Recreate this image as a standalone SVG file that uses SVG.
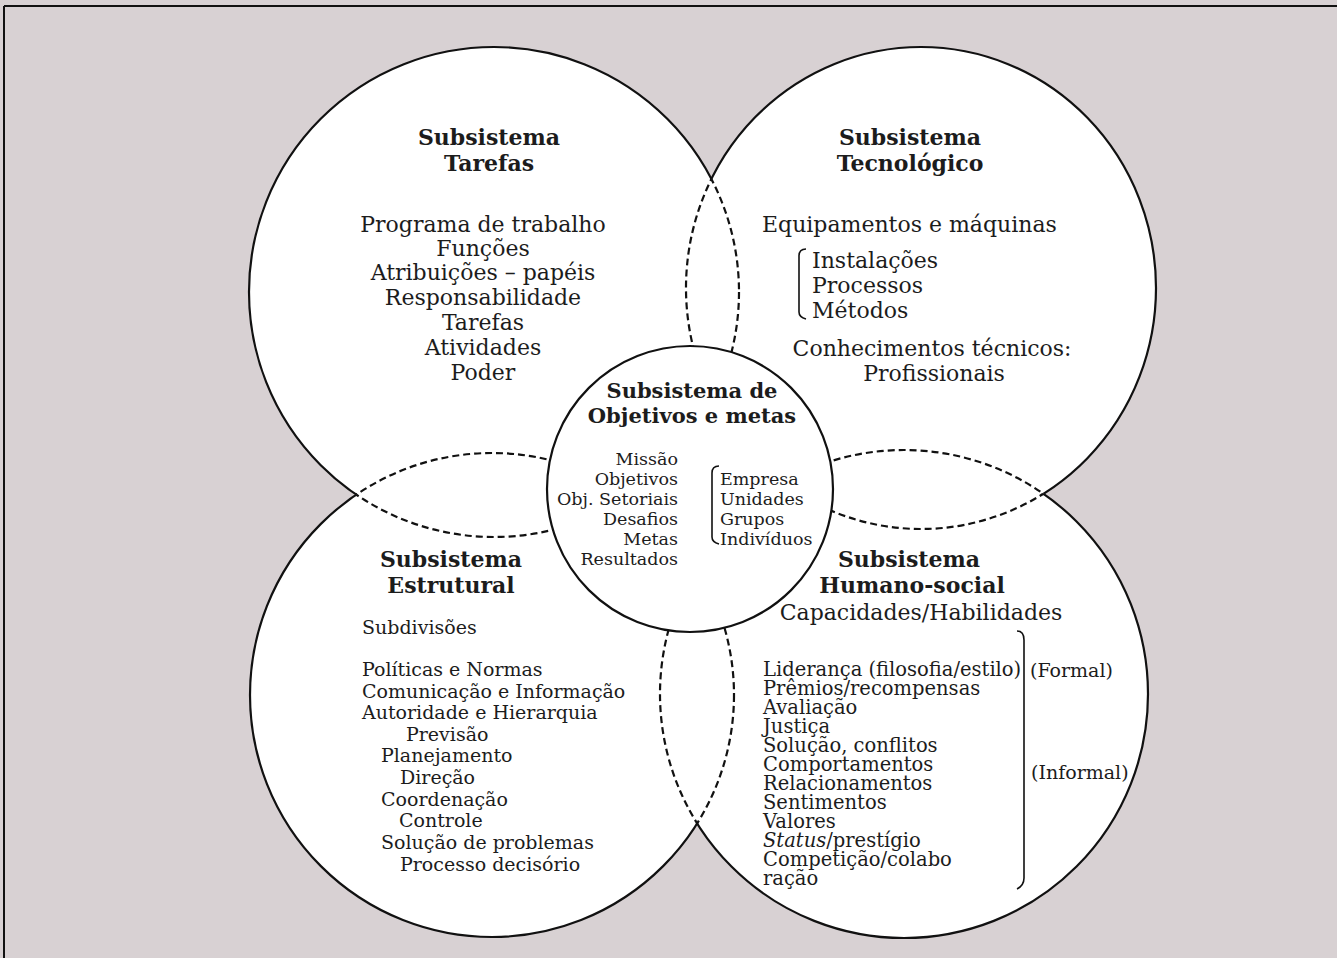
<svg xmlns="http://www.w3.org/2000/svg" xmlns:xlink="http://www.w3.org/1999/xlink" width="1337" height="958" viewBox="0 0 1337 958">
<style>
  text { font-family: "DejaVu Serif", "Liberation Serif", serif; fill: #1c1c1c; }
  .title { font-weight: bold; font-size: 22px; text-anchor: middle; }
  .ctitle { font-weight: bold; font-size: 21px; text-anchor: middle; }
  .big { font-size: 22px; }
  .mid { font-size: 19px; }
  .list { font-size: 19.5px; }
  .small { font-size: 17.5px; }
  .c { text-anchor: middle; }
  .r { text-anchor: end; }
  .solid { fill: none; stroke: #111; stroke-width: 2.2; }
  .dash { fill: none; stroke: #111; stroke-width: 2.2; stroke-dasharray: 7 4; }
  .brk { fill: none; stroke: #111; stroke-width: 1.6; }
</style>
<defs>
  <circle id="cTL" cx="494" cy="292" r="245"/>
  <ellipse id="cTR" cx="921" cy="288" rx="235" ry="241"/>
  <circle id="cBL" cx="492" cy="695" r="242"/>
  <circle id="cBR" cx="904" cy="694" r="244"/>
  <mask id="outTL" maskUnits="userSpaceOnUse" x="0" y="0" width="1337" height="958"><rect width="1337" height="958" fill="white"/><use xlink:href="#cTR" fill="black"/><use xlink:href="#cBL" fill="black"/><use xlink:href="#cBR" fill="black"/></mask>
  <mask id="inTL" maskUnits="userSpaceOnUse" x="0" y="0" width="1337" height="958"><use xlink:href="#cTR" fill="white"/><use xlink:href="#cBL" fill="white"/><use xlink:href="#cBR" fill="white"/></mask>
  <mask id="outTR" maskUnits="userSpaceOnUse" x="0" y="0" width="1337" height="958"><rect width="1337" height="958" fill="white"/><use xlink:href="#cTL" fill="black"/><use xlink:href="#cBL" fill="black"/><use xlink:href="#cBR" fill="black"/></mask>
  <mask id="inTR" maskUnits="userSpaceOnUse" x="0" y="0" width="1337" height="958"><use xlink:href="#cTL" fill="white"/><use xlink:href="#cBL" fill="white"/><use xlink:href="#cBR" fill="white"/></mask>
  <mask id="outBL" maskUnits="userSpaceOnUse" x="0" y="0" width="1337" height="958"><rect width="1337" height="958" fill="white"/><use xlink:href="#cTL" fill="black"/><use xlink:href="#cTR" fill="black"/><use xlink:href="#cBR" fill="black"/></mask>
  <mask id="inBL" maskUnits="userSpaceOnUse" x="0" y="0" width="1337" height="958"><use xlink:href="#cTL" fill="white"/><use xlink:href="#cTR" fill="white"/><use xlink:href="#cBR" fill="white"/></mask>
  <mask id="outBR" maskUnits="userSpaceOnUse" x="0" y="0" width="1337" height="958"><rect width="1337" height="958" fill="white"/><use xlink:href="#cTL" fill="black"/><use xlink:href="#cTR" fill="black"/><use xlink:href="#cBL" fill="black"/></mask>
  <mask id="inBR" maskUnits="userSpaceOnUse" x="0" y="0" width="1337" height="958"><use xlink:href="#cTL" fill="white"/><use xlink:href="#cTR" fill="white"/><use xlink:href="#cBL" fill="white"/></mask>
</defs>

<rect width="1337" height="958" fill="#d8d1d3"/>
<line x1="4" y1="6" x2="1337" y2="6" stroke="#111" stroke-width="2"/>
<line x1="4" y1="6" x2="4" y2="958" stroke="#111" stroke-width="2"/>

<g id="circle-fills" fill="#ffffff">
  <use xlink:href="#cTL"/><use xlink:href="#cTR"/><use xlink:href="#cBL"/><use xlink:href="#cBR"/>
</g>

<g id="node-tarefas">
  <use xlink:href="#cTL" class="solid" mask="url(#outTL)"/>
  <use xlink:href="#cTL" class="dash" mask="url(#inTL)"/>
  <text class="title" x="489" y="145">Subsistema</text>
  <text class="title" x="489" y="171">Tarefas</text>
  <g class="big c">
    <text x="483" y="232">Programa de trabalho</text>
    <text x="483" y="256">Funções</text>
    <text x="483" y="280">Atribuições – papéis</text>
    <text x="483" y="305">Responsabilidade</text>
    <text x="483" y="330">Tarefas</text>
    <text x="483" y="355">Atividades</text>
    <text x="483" y="380">Poder</text>
  </g>
</g>

<g id="node-tecnologico">
  <use xlink:href="#cTR" class="solid" mask="url(#outTR)"/>
  <use xlink:href="#cTR" class="dash" mask="url(#inTR)"/>
  <text class="title" x="910" y="145">Subsistema</text>
  <text class="title" x="910" y="171">Tecnológico</text>
  <text class="big" x="762" y="232">Equipamentos e máquinas</text>
  <path class="brk" d="M806,249 C801,249 799,252 799,256 L799,312 C799,316 802,318 806,319"/>
  <text class="big" x="812" y="268">Instalações</text>
  <text class="big" x="812" y="293">Processos</text>
  <text class="big" x="812" y="318">Métodos</text>
  <text class="big c" x="932" y="356">Conhecimentos técnicos:</text>
  <text class="big c" x="934" y="381">Profissionais</text>
</g>

<g id="node-estrutural">
  <use xlink:href="#cBL" class="solid" mask="url(#outBL)"/>
  <use xlink:href="#cBL" class="dash" mask="url(#inBL)"/>
  <text class="title" x="451" y="567">Subsistema</text>
  <text class="title" x="451" y="593">Estrutural</text>
  <g class="mid">
    <text x="362" y="634">Subdivisões</text>
    <text x="362" y="676">Políticas e Normas</text>
    <text x="362" y="698">Comunicação e Informação</text>
    <text x="362" y="719">Autoridade e Hierarquia</text>
    <text x="406" y="741">Previsão</text>
    <text x="381" y="762">Planejamento</text>
    <text x="400" y="784">Direção</text>
    <text x="381" y="806">Coordenação</text>
    <text x="399" y="827">Controle</text>
    <text x="381" y="849">Solução de problemas</text>
    <text x="400" y="871">Processo decisório</text>
  </g>
</g>

<g id="node-humano-social">
  <use xlink:href="#cBR" class="solid" mask="url(#outBR)"/>
  <use xlink:href="#cBR" class="dash" mask="url(#inBR)"/>
  <text class="title" x="909" y="567">Subsistema</text>
  <text class="title" x="912" y="593">Humano-social</text>
  <text class="big c" x="921" y="620">Capacidades/Habilidades</text>
  <path class="brk" d="M1017,631 C1021,631 1024,634 1024,640 L1024,878 C1024,884 1021,887 1017,889"/>
  <g class="list">
    <text x="763" y="676">Liderança (filosofia/estilo)</text>
    <text x="763" y="695">Prêmios/recompensas</text>
    <text x="763" y="714">Avaliação</text>
    <text x="763" y="733">Justiça</text>
    <text x="763" y="752">Solução, conflitos</text>
    <text x="763" y="771">Comportamentos</text>
    <text x="763" y="790">Relacionamentos</text>
    <text x="763" y="809">Sentimentos</text>
    <text x="763" y="828">Valores</text>
    <text x="763" y="847"><tspan font-style="italic">Status</tspan>/prestígio</text>
    <text x="763" y="866">Competição/colabo</text>
    <text x="763" y="885">ração</text>
  </g>
  <g class="mid">
    <text x="1030" y="677">(Formal)</text>
    <text x="1031" y="779">(Informal)</text>
  </g>
</g>

<g id="node-objetivos">
  <circle cx="690" cy="489" r="143" fill="#ffffff" stroke="#111" stroke-width="2.2"/>
  <text class="ctitle" x="692" y="398">Subsistema de</text>
  <text class="ctitle" x="692" y="423">Objetivos e metas</text>
  <g class="small r">
    <text x="678" y="465">Missão</text>
    <text x="678" y="485">Objetivos</text>
    <text x="678" y="505">Obj. Setoriais</text>
    <text x="678" y="525">Desafios</text>
    <text x="678" y="545">Metas</text>
    <text x="678" y="565">Resultados</text>
  </g>
  <path class="brk" d="M719,466 C714,466 712,469 712,473 L712,537 C712,541 715,543 719,544"/>
  <g class="small">
    <text x="720" y="485">Empresa</text>
    <text x="720" y="505">Unidades</text>
    <text x="720" y="525">Grupos</text>
    <text x="720" y="545">Indivíduos</text>
  </g>
</g>
</svg>
